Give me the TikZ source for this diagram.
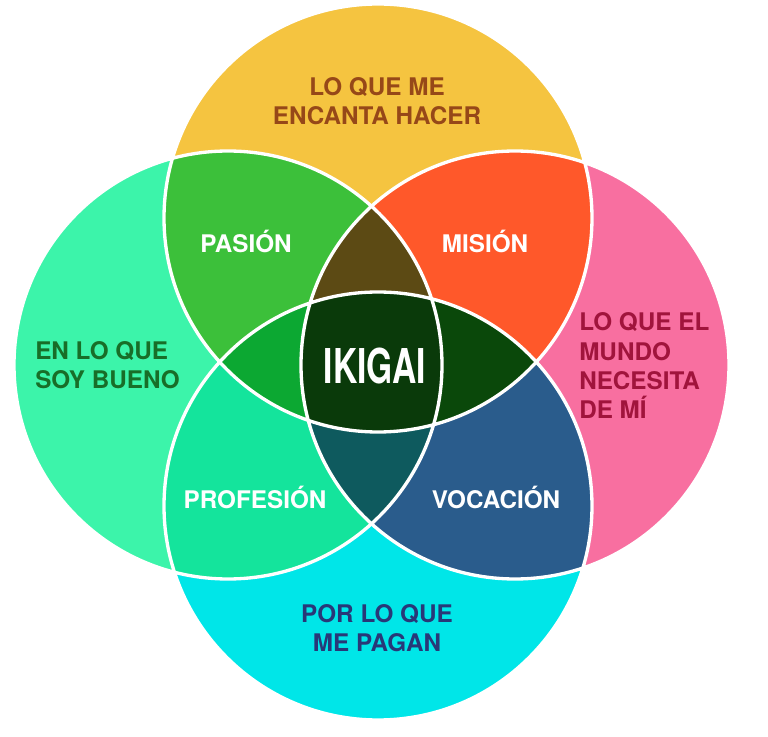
\documentclass[tikz,border=0pt]{standalone}
\usepackage{fontspec}
\setmainfont{TeX Gyre Heros}
\begin{document}
\begin{tikzpicture}[x=0.75pt,y=-0.75pt,
  lbl/.style={font=\bfseries\fontsize{18.2}{22}\selectfont,align=center,inner sep=0pt},
  wl/.style={lbl,text=white}]
\useasboundingbox (0,0) rectangle (768,737);
\fill[white] (0,0) rectangle (768,737);
\def\T{(378,218) circle[radius=214]}
\def\L{(228,365) circle[radius=214]}
\def\R{(515,365) circle[radius=214]}
\def\B{(378,506) circle[radius=214]}
\definecolor{cT}{HTML}{F5C440}\definecolor{cL}{HTML}{3CF4AA}
\definecolor{cR}{HTML}{F86FA0}\definecolor{cB}{HTML}{00E6E8}
\definecolor{cTL}{HTML}{3CC03A}\definecolor{cTR}{HTML}{FF582A}
\definecolor{cLB}{HTML}{14E49C}\definecolor{cRB}{HTML}{2A5C8C}
\definecolor{cTLR}{HTML}{5C4A14}\definecolor{cTLB}{HTML}{0CA832}
\definecolor{cTRB}{HTML}{0A480A}\definecolor{cLRB}{HTML}{0E5A5E}
\definecolor{cAll}{HTML}{0A3A0A}
\fill[cT] \T; \fill[cL] \L; \fill[cR] \R; \fill[cB] \B;
\begin{scope}\clip \T; \fill[cTL] \L; \fill[cTR] \R; \end{scope}
\begin{scope}\clip \B; \fill[cLB] \L; \fill[cRB] \R; \end{scope}
\begin{scope}\clip \T; \clip \L; \fill[cTLR] \R; \end{scope}
\begin{scope}\clip \T; \clip \L; \fill[cTLB] \B; \end{scope}
\begin{scope}\clip \T; \clip \R; \fill[cTRB] \B; \end{scope}
\begin{scope}\clip \L; \clip \R; \fill[cLRB] \B; \end{scope}
\begin{scope}\clip \L; \clip \R; \clip \T; \fill[cAll] \B; \end{scope}
\draw[white,line width=2.5] \T \L \R \B;
\node[lbl,text={rgb,255:red,150;green,72;blue,24}] (top) at (377,101) {LO QUE ME\\ENCANTA HACER};
\node[lbl,text={rgb,255:red,24;green,110;blue,40},align=left,anchor=west] (left) at (35,365) {EN LO QUE\\SOY BUENO};
\node[lbl,text={rgb,255:red,160;green,20;blue,60},align=left,anchor=west] (right) at (579,366) {LO QUE EL\\MUNDO\\NECESITA\\DE MÍ};
\node[lbl,text={rgb,255:red,40;green,56;blue,120}] (bot) at (377,628) {POR LO QUE\\ME PAGAN};
\node[wl] (pas) at (246,241) {PASIÓN};
\node[wl] (mis) at (485,241) {MISIÓN};
\node[wl] (pro) at (255,497) {PROFESIÓN};
\node[wl] (voc) at (496,497) {VOCACIÓN};
\node[text=white,font=\bfseries\fontsize{36}{36}\selectfont,inner sep=0pt] (iki) at (375,366) {\scalebox{0.7}[1]{IKIGAI}};
\end{tikzpicture}
\end{document}
